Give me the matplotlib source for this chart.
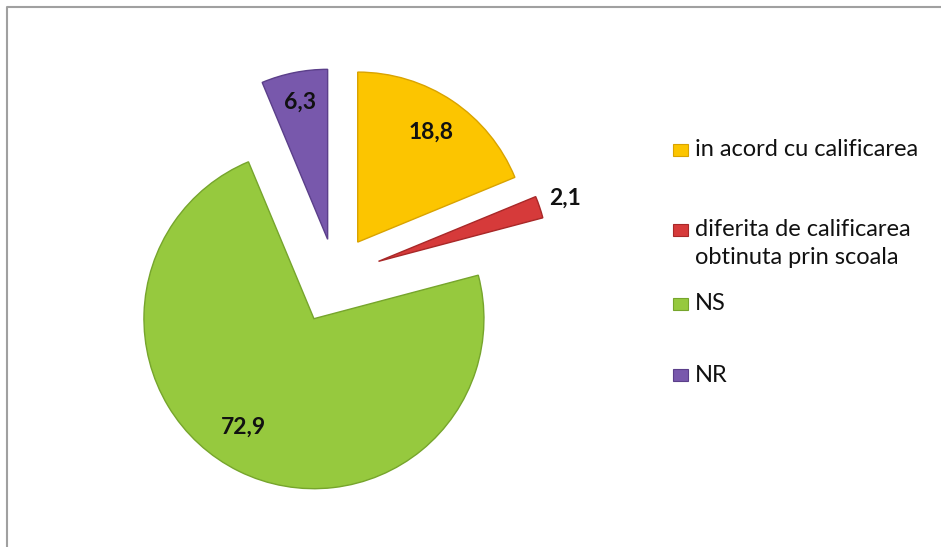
import numpy as np
import matplotlib
matplotlib.use("Agg")
import matplotlib.pyplot as plt
from matplotlib.patches import Rectangle

# data
labels = ["in acord cu calificarea", "diferita de calificarea\nobtinuta prin scoala", "NS", "NR"]
values = [18.8, 2.1, 72.9, 6.3]
value_text = ["18,8", "2,1", "72,9", "6,3"]
colors = ["#FCC500", "#D63A3A", "#96C93E", "#7858AC"]
edges = ["#D9A300", "#A82828", "#76A52C", "#5B3F8A"]
explode = [0.24, 0.27, 0.28, 0.22]  # fraction of radius

W, H = 941, 547
fig = plt.figure(figsize=(W / 100, H / 100), dpi=100)
ax = fig.add_axes([0, 0, 1, 1])

# chart frame (only top and left edge visible in the crop)
ax.plot([7, 7, W + 5], [-5, H - 7, H - 7], color="#A0A0A0", lw=1.5)

R = 170
wedges, _ = ax.pie(values, colors=colors, explode=[e * R for e in explode],
                   startangle=90, counterclock=False, radius=R,
                   center=(335, H - 276), wedgeprops=dict(linewidth=1.0),
                   frame=True)
for w, ec in zip(wedges, edges):
    w.set_edgecolor(ec)
ax.set_xlim(0, W)
ax.set_ylim(0, H)
ax.set_aspect("equal")
ax.axis("off")

# data labels (distance as fraction of radius, small angle shift in degrees)
label_dist = [0.78, 1.16, 0.76, 0.82]
label_shift = [0, 0, -7, 0]
for w, txt, d, s in zip(wedges, value_text, label_dist, label_shift):
    mid = np.deg2rad((w.theta1 + w.theta2) / 2 + s)
    cx, cy = w.center
    ax.text(cx + d * R * np.cos(mid), cy + d * R * np.sin(mid), txt,
            ha="center", va="center", fontsize=16.5, fontweight="bold",
            family="Lato", color="#111111")

# legend
leg_y = [150, 230, 304, 375]
for lab, c, ec, y in zip(labels, colors, edges, leg_y):
    ax.add_patch(Rectangle((673, H - y - 6), 15, 12, facecolor=c, edgecolor=ec, lw=0.8))
    for i, line in enumerate(lab.split("\n")):
        ax.text(695, H - y - i * 27, line, ha="left", va="center",
                fontsize=17, family="Lato", color="#111111")

fig.savefig("out.png", dpi=100)
